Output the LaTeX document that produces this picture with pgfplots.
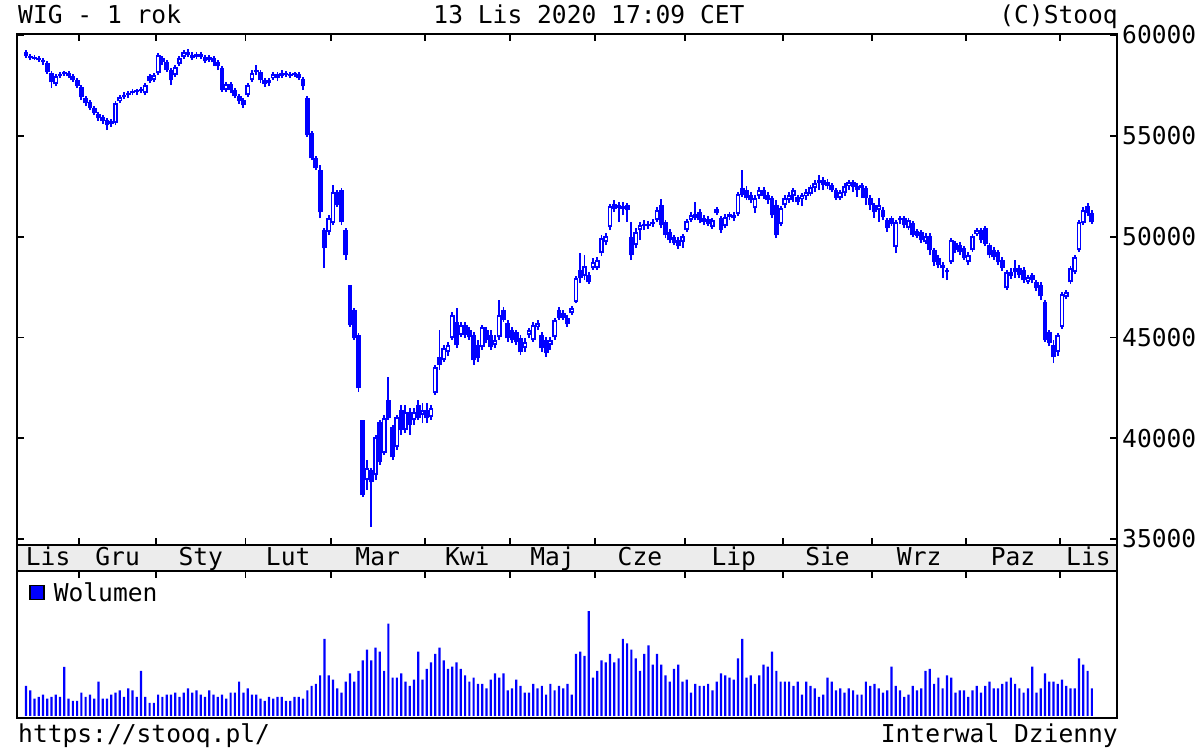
\documentclass[border=0pt]{standalone}
\usepackage{fontspec}
\setmainfont{DejaVu Sans Mono}
\usepackage{pgfplots}
\usepackage{pgfplotstable}
\pgfplotsset{compat=1.18}

\pgfplotstableread{
d o h l c v
0 59157 59256 58859 58958 90
1 58958 59058 58760 58859 77
2 58909 59008 58760 58810 52
3 58859 58958 58661 58760 57
4 58760 58859 58512 58661 64
5 58611 58710 58066 58165 52
6 58115 58214 57371 57669 57
7 57570 58066 57470 57966 64
8 57966 58165 57867 58066 57
9 58066 58214 57966 58115 147
10 58115 58214 57867 57966 52
11 57966 58066 57669 57768 45
12 57768 57867 57371 57470 45
13 57421 57520 56776 56925 70
14 56875 56974 56478 56627 57
15 56677 56776 56280 56379 64
16 56379 56478 56032 56131 52
17 56082 56181 55734 55883 103
18 55933 56032 55586 55734 52
19 55784 55883 55288 55536 52
20 55586 55834 55437 55734 64
21 55635 56726 55536 56627 70
22 56726 57024 56627 56925 77
23 56925 57173 56826 57024 57
24 57024 57222 56875 57123 83
25 57123 57322 57024 57222 77
26 57222 57322 57024 57173 57
27 57222 57421 57123 57322 135
28 57123 57619 57024 57520 57
29 57966 58066 57619 57718 39
30 57768 58115 57669 58016 39
31 58115 59107 58016 59008 64
32 58859 58958 58512 58661 57
33 58661 58760 58165 58264 64
34 58264 58363 57520 57768 64
35 58016 58512 57917 58413 70
36 58562 58958 58462 58859 57
37 58909 59256 58810 59157 70
38 59157 59306 58909 59008 83
39 59008 59157 58760 58859 70
40 58909 59157 58810 59058 77
41 59058 59157 58810 58909 64
42 58909 59008 58611 58710 57
43 58760 59008 58661 58909 77
44 58859 58958 58462 58661 64
45 58661 58760 58264 58462 57
46 58363 58462 57173 57272 64
47 57272 57669 57173 57570 52
48 57570 57669 57123 57272 70
49 57272 57371 56875 56974 70
50 56974 57074 56578 56726 103
51 56776 56875 56379 56528 70
52 57024 57619 56925 57520 83
53 57768 58264 57669 58115 64
54 58165 58512 58016 58264 64
55 58165 58264 57619 57768 52
56 57768 57867 57421 57570 45
57 57619 57867 57470 57768 57
58 57867 58165 57768 58066 52
59 58066 58165 57718 57867 57
60 57966 58264 57867 58115 57
61 58115 58214 57917 58016 45
62 58066 58165 57867 57966 45
63 58016 58165 57917 58066 57
64 58066 58165 57768 57867 57
65 57818 57917 57272 57470 52
66 56875 56974 54941 55040 77
67 55139 55238 53800 53899 90
68 53899 53998 53304 53403 96
69 53304 53552 50923 51221 122
70 50328 50427 48443 49435 231
71 50229 51072 50080 50923 122
72 50675 52560 50576 52213 109
73 52213 52312 51469 51568 83
74 52312 52411 50576 50725 70
75 50328 50427 48840 49088 103
76 47600 47600 45517 45616 128
77 46360 46459 44872 44971 103
78 45120 45219 42293 42491 135
79 40904 40904 37085 37184 167
80 37928 38920 37432 38523 199
81 38424 38523 35597 37829 167
82 38176 40160 37928 40061 205
83 40805 40904 38672 38821 193
84 39267 41152 39168 41003 135
85 41896 43037 40904 41003 277
86 40557 40656 38920 39069 115
87 39565 41152 39416 41053 115
88 41400 41648 40160 40408 128
89 40408 41648 40259 41301 103
90 41301 41499 40160 40656 90
91 40904 41499 40656 41301 109
92 41648 41896 40904 41003 193
93 41152 41747 40755 41400 109
94 41400 41747 40755 41003 141
95 41053 41648 40904 41499 161
96 42243 43632 42144 43533 186
97 44029 45368 43384 43632 205
98 43880 44624 43781 44475 167
99 44277 44773 44078 44624 141
100 44971 46261 44872 46112 148
101 45765 46459 44475 44624 161
102 45120 45765 45021 45616 141
103 45616 45765 44971 45120 122
104 45368 45517 44872 45021 103
105 45120 45269 43632 43880 115
106 44624 44872 43781 43979 96
107 44525 45616 44376 45517 96
108 45368 45517 44723 44872 83
109 45120 45368 44376 44525 109
110 44624 45120 44475 44872 128
111 45021 46856 44872 46112 115
112 46360 46509 45765 45864 128
113 45715 45864 44773 44971 77
114 45368 45517 44723 44872 83
115 45269 45368 44624 44773 109
116 44971 45120 44128 44277 90
117 44475 44971 44277 44773 70
118 45120 45467 44971 45368 70
119 44872 45765 44773 45616 96
120 45517 45864 45368 45715 83
121 45120 45269 44277 44475 90
122 44872 45021 44029 44227 64
123 44624 45021 44376 44872 96
124 45021 45963 44872 45864 77
125 46360 46509 45864 45963 90
126 46211 46360 45864 45963 83
127 45963 46112 45517 45666 96
128 46211 46558 46112 46459 64
129 46757 48046 46707 47947 186
130 48344 49187 47699 47947 193
131 48046 49088 47848 48542 180
132 48096 48245 47650 47749 315
133 48443 48939 48344 48741 115
134 48443 48989 48344 48840 135
135 49187 50080 49038 49931 167
136 49733 50179 49584 50030 161
137 50477 51618 50328 51518 186
138 51618 51816 51221 51370 161
139 51568 51717 50725 51419 173
140 51518 51717 51072 51370 231
141 51568 51667 50725 51320 218
142 49981 50725 48840 49088 199
143 49584 50427 49435 50229 173
144 50328 50725 49832 50576 135
145 50526 50824 50328 50626 186
146 50626 50774 50378 50526 212
147 50626 50874 50477 50725 154
148 50824 51469 50725 51320 186
149 51568 51866 50427 50576 154
150 50725 50824 49931 50080 122
151 50229 50378 49683 49832 103
152 49981 50080 49584 49683 141
153 49832 49981 49386 49534 154
154 49733 50130 49435 50030 103
155 50328 50874 50229 50774 109
156 50824 51221 50725 51072 70
157 51122 51717 50824 50923 96
158 51221 51370 50675 50824 90
159 50923 51072 50576 50725 90
160 50874 51022 50526 50626 96
161 50477 50923 50378 50824 77
162 51370 51469 51072 51171 103
163 50923 51022 50179 50328 128
164 50526 51122 50427 50973 122
165 50973 51221 50824 51122 115
166 51072 51221 50774 50923 109
167 51122 52213 51022 52114 173
168 52411 53304 51965 52064 231
169 52312 52510 51816 51915 115
170 52064 52213 51667 51816 122
171 51419 52064 51171 51915 96
172 52014 52461 51866 52312 122
173 52312 52461 51866 52014 154
174 52064 52213 51618 51816 148
175 51915 52014 50923 51072 193
176 51568 51816 49931 50080 135
177 50626 51518 50526 51419 103
178 51568 52064 51419 51915 103
179 51816 52213 51667 52064 103
180 52014 52411 51717 52312 90
181 51965 52064 51568 51717 103
182 51866 52163 51518 52064 64
183 52014 52362 51816 52213 103
184 52114 52560 52014 52461 90
185 52411 52808 52213 52659 83
186 52659 53056 52312 52808 57
187 52808 52957 52312 52560 64
188 52709 52858 52362 52510 115
189 52560 52659 52213 52312 103
190 52312 52411 51816 51915 77
191 51915 52312 51816 52213 83
192 52163 52659 52014 52510 70
193 52510 52808 52312 52709 83
194 52709 52808 52213 52461 77
195 52510 52659 51965 52312 64
196 52411 52659 51915 52560 64
197 52411 52510 51568 51915 103
198 51915 52064 51320 51568 90
199 51568 51667 50923 51221 96
200 51320 51915 50725 51568 83
201 51320 51469 50824 50973 70
202 50824 50923 50229 50427 77
203 50923 51022 50526 50626 148
204 49485 50824 49187 50725 90
205 50824 51022 50626 50923 77
206 50923 51022 50427 50576 57
207 50427 50923 50328 50824 64
208 50675 50774 49981 50080 90
209 50278 50378 49931 50030 77
210 50229 50328 49683 49832 83
211 49733 50179 49634 50030 135
212 50030 50179 49088 49336 141
213 49336 49435 48542 48741 96
214 48939 49088 48443 48592 115
215 48592 48741 47947 48443 83
216 48245 48443 47848 48344 122
217 48741 49931 48642 49832 115
218 49683 49782 49187 49336 70
219 49584 49733 49088 49237 77
220 49435 49534 48840 48939 77
221 48741 49237 48592 49088 57
222 49336 50130 49237 50030 77
223 50130 50427 50030 50328 90
224 50328 50427 49683 49832 70
225 50427 50526 49534 49634 90
226 49584 49683 48939 49088 103
227 49336 49485 48840 48989 83
228 49237 49336 48592 48741 83
229 48840 48989 48294 48443 96
230 47451 48344 47352 48245 103
231 48245 48443 47898 48046 115
232 48443 48840 47947 48245 96
233 48443 48592 47947 48096 83
234 48344 48493 47699 47848 70
235 47749 48096 47650 47997 83
236 48096 48195 47699 47848 148
237 47749 47848 47302 47451 70
238 47600 47749 46856 47054 83
239 46757 46856 44773 44872 128
240 45269 45368 44574 44723 103
241 44624 44872 43731 44029 103
242 44277 45219 44078 45120 96
243 45517 47253 45418 47154 109
244 47005 47352 46906 47253 90
245 47749 48542 47650 48443 83
246 48245 49088 48146 48989 83
247 49336 50824 49237 50725 173
248 50675 51469 50576 51320 154
249 51518 51667 51022 51171 135
250 51171 51320 50626 50725 83
}\candles

\begin{document}
\fontsize{24.6}{28}\selectfont
\begin{tikzpicture}[x=1pt,y=1pt]
\useasboundingbox (0pt,0pt) rectangle (1200pt,750pt);
\pgfplotsset{
  panel/.style={
    scale only axis, width=1100pt, xmin=-2.1, xmax=255.9,
    anchor=south west,
    axis line style={line width=2.4pt},
    every tick/.style={black, line width=1.8pt},
    major tick length=7pt, tick align=inside,
    /pgf/number format/assume math mode=true,
  },
}
% price panel
\begin{axis}[panel, at={(17pt,205pt)}, height=511pt,
  ymin=34704, ymax=60050,
  xtick={12.5,30.5,51.5,71.5,93.5,113.5,133.5,154.5,177.5,198.5,220.5,242.5},
  xticklabels={}, xtick pos=both,
  ytick={35000,40000,45000,50000,55000,60000},
  yticklabel pos=right, ytick pos=both,
  scaled y ticks=false,
  yticklabel style={anchor=west, inner sep=0pt, xshift=5pt, /pgf/number format/1000 sep={}},
]
\addplot[blue, line width=1.9pt, no markers, -,
  quiver={u=0, v=\thisrow{h}-\thisrow{l}}] table[x=d, y=l] {\candles};
\addplot[blue, line width=4.8pt, no markers, -,
  quiver={u=0, v={max(abs(\thisrow{c}-\thisrow{o}),110)}}]
  table[x=d, y expr={min(\thisrow{o},\thisrow{c})-20}] {\candles};
\addplot[white, line width=1.8pt, no markers, -,
  quiver={u=0, v={(\thisrow{c}>\thisrow{o})*max(abs(\thisrow{c}-\thisrow{o})-150,0)}}]
  table[x=d, y expr={min(\thisrow{o},\thisrow{c})+75}] {\candles};
\end{axis}
% month strip
\begin{axis}[panel, at={(17pt,179pt)}, height=26pt, ymin=0, ymax=1,
  ytick=\empty,
  axis background/.style={fill=gray!15},
  xtick={5.2,21.5,41,61.5,82.5,103.5,123.5,144,166,188,209.5,231.5,249.2},
  xticklabels={Lis,Gru,Sty,Lut,Mar,Kwi,Maj,Cze,Lip,Sie,Wrz,Paz,Lis},
  major tick length=0pt,
  xticklabel style={anchor=base, inner sep=0pt, yshift=5pt},
]
\end{axis}
% volume panel
\begin{axis}[panel, at={(17pt,32pt)}, height=147pt, ymin=-6, ymax=435,
  ytick=\empty,
  xtick={12.5,30.5,51.5,71.5,93.5,113.5,133.5,154.5,177.5,198.5,220.5,242.5},
  xticklabels={}, xtick pos=right,
  legend style={at={(axis description cs:0,1)}, anchor=north west,
    draw=none, fill=none, inner sep=0pt, xshift=12pt, yshift=-9pt,
    font=\fontsize{24.6}{28}\selectfont,
    /tikz/every odd column/.append style={column sep=7pt}},
]
\addplot[ybar, bar width=2.2pt, fill=blue, draw=none,
  legend image code/.code={\draw[fill=blue, draw=black, line width=1.6pt] (0pt,-6pt) rectangle (14pt,8pt);}]
  table[x=d, y=v] {\candles};
\addlegendentry{Wolumen}
\end{axis}
% header and footer
\node[anchor=base west, inner sep=0pt] at (18pt,726pt) {WIG - 1 rok};
\node[anchor=base, inner sep=0pt] at (589pt,726pt) {13 Lis 2020 17:09 CET};
\node[anchor=base east, inner sep=0pt] at (1118pt,726pt) {(C)Stooq};
\node[anchor=base west, inner sep=0pt] at (18pt,7pt) {https://stooq.pl/};
\node[anchor=base east, inner sep=0pt] at (1118pt,7pt) {Interwal Dzienny};
\end{tikzpicture}
\end{document}
